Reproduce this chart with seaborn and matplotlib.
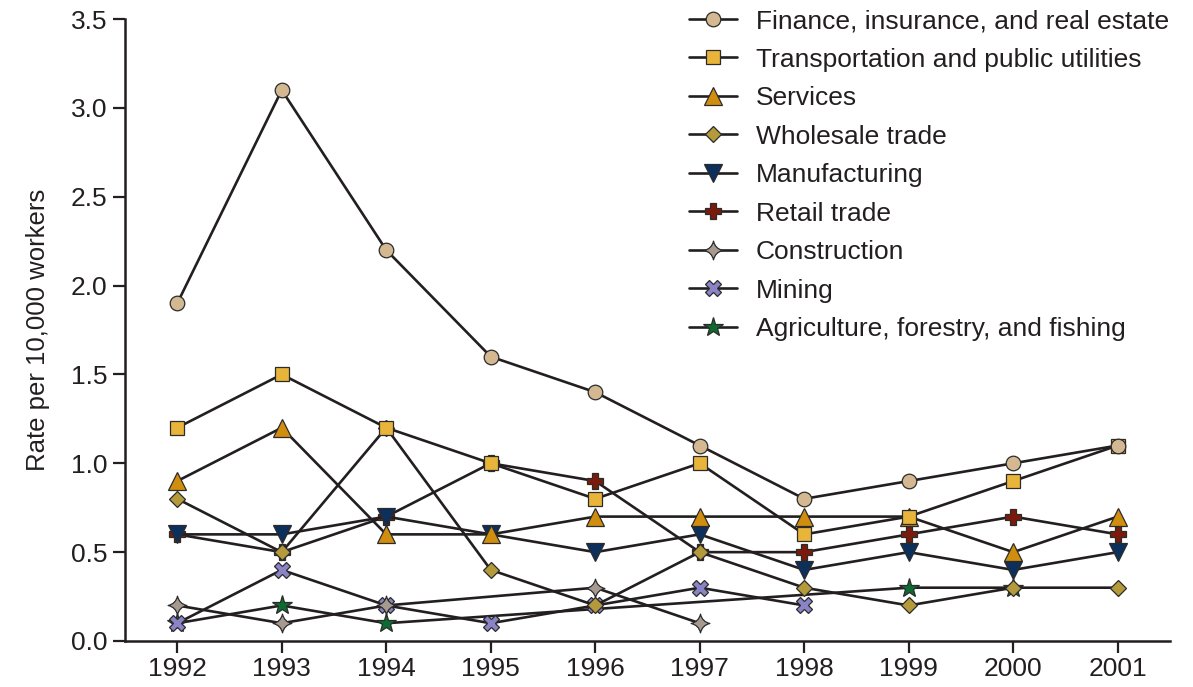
import numpy as np
import pandas as pd
import matplotlib
matplotlib.use("Agg")
import matplotlib.pyplot as plt
from matplotlib.path import Path
import seaborn as sns

years = [1992, 1993, 1994, 1995, 1996, 1997, 1998, 1999, 2000, 2001]

finance = [1.9, 3.1, 2.2, 1.6, 1.4, 1.1, 0.8, 0.9, 1.0, 1.1]
transportation = [1.2, 1.5, 1.2, 1.0, 0.8, 1.0, 0.6, 0.7, 0.9, 1.1]
services = [0.9, 1.2, 0.6, 0.6, 0.7, 0.7, 0.7, 0.7, 0.5, 0.7]
wholesale = [0.8, 0.5, 1.2, 0.4, 0.2, 0.5, 0.3, 0.2, 0.3, 0.3]
manufacturing = [0.6, 0.6, 0.7, 0.6, 0.5, 0.6, 0.4, 0.5, 0.4, 0.5]
retail = [0.6, 0.5, 0.7, 1.0, 0.9, 0.5, 0.5, 0.6, 0.7, 0.6]
construction = [0.2, 0.1, 0.2, np.nan, 0.3, 0.1, np.nan, np.nan, np.nan, np.nan]
mining = [0.1, 0.4, 0.2, 0.1, 0.2, 0.3, 0.2, np.nan, np.nan, np.nan]
agriculture = [0.1, 0.2, 0.1, np.nan, np.nan, np.nan, np.nan, 0.3, 0.3, np.nan]

series_names = [
    "Finance, insurance, and real estate",
    "Transportation and public utilities",
    "Services",
    "Wholesale trade",
    "Manufacturing",
    "Retail trade",
    "Construction",
    "Mining",
    "Agriculture, forestry, and fishing",
]
series_values = [finance, transportation, services, wholesale, manufacturing,
                 retail, construction, mining, agriculture]

y_ticks = [0.0, 0.5, 1.0, 1.5, 2.0, 2.5, 3.0, 3.5]
y_label = "Rate per 10,000 workers"

# four-pointed star with concave sides
astroid = Path(
    [(0, 1), (0.18, 0.18), (1, 0), (0.18, -0.18), (0, -1),
     (-0.18, -0.18), (-1, 0), (-0.18, 0.18), (0, 1), (0, 1)],
    [Path.MOVETO, Path.CURVE3, Path.CURVE3, Path.CURVE3, Path.CURVE3,
     Path.CURVE3, Path.CURVE3, Path.CURVE3, Path.CURVE3, Path.CLOSEPOLY],
)

styles = [
    dict(marker="o", ms=10.5, fc="#D4B892"),
    dict(marker="s", ms=9.5, fc="#E8B53A"),
    dict(marker="^", ms=12.5, fc="#D18E0E"),
    dict(marker="D", ms=8.3, fc="#B59A3C"),
    dict(marker="v", ms=12.5, fc="#0D2F5C"),
    dict(marker="P", ms=11, fc="#7B1A0C"),
    dict(marker=astroid, ms=13.5, fc="#A69A90"),
    dict(marker="X", ms=11, fc="#8A84C6"),
    dict(marker="*", ms=15, fc="#0E6B30"),
]

INK = "#231F20"

sns.set_style("ticks")
plt.rcParams["font.family"] = ["Liberation Sans", "DejaVu Sans"]

fig = plt.figure(figsize=(11.93, 6.87), dpi=100)
ax = fig.add_axes([125 / 1193, 1 - 641 / 687, (1170 - 125) / 1193, (641 - 19) / 687])

n = len(series_names)
for i, (name, vals, st) in enumerate(zip(series_names, series_values, styles)):
    df = pd.DataFrame({"year": years, "rate": vals}).dropna()
    sns.lineplot(
        data=df, x="year", y="rate", ax=ax, errorbar=None,
        color=INK, linewidth=1.9,
        marker=st["marker"], markersize=st["ms"],
        markerfacecolor=st["fc"], markeredgecolor="#2b2b2b",
        markeredgewidth=0.9, label=name, zorder=10 + (n - i),
    )

ax.set_xlim(1991.5, 2001.5)
ax.set_ylim(0, 3.5)
ax.set_xticks(years)
ax.set_xticklabels([str(y) for y in years])
ax.set_yticks(y_ticks)
ax.set_yticklabels([f"{v:.1f}" for v in y_ticks])
ax.set_xlabel("")
ax.set_ylabel(y_label, fontsize=18.5, color=INK, labelpad=15)

for side in ("top", "right"):
    ax.spines[side].set_visible(False)
for side in ("left", "bottom"):
    ax.spines[side].set_linewidth(1.8)
    ax.spines[side].set_color(INK)
ax.tick_params(axis="both", direction="out", length=8.5, width=1.6,
               colors=INK, labelsize=19, labelcolor=INK)
ax.tick_params(axis="x", pad=3)
ax.tick_params(axis="y", pad=4)

handles, labels = ax.get_legend_handles_labels()
leg = ax.legend(
    handles, labels, loc="upper left",
    bbox_to_anchor=(689 / 1193, 1 - 9 / 687), bbox_transform=fig.transFigure,
    frameon=False, fontsize=19, handlelength=1.82, handletextpad=0.72,
    labelspacing=0.55, borderpad=0.0, borderaxespad=0.0,
)
for t in leg.get_texts():
    t.set_color(INK)

fig.savefig("out.png", dpi=100)
